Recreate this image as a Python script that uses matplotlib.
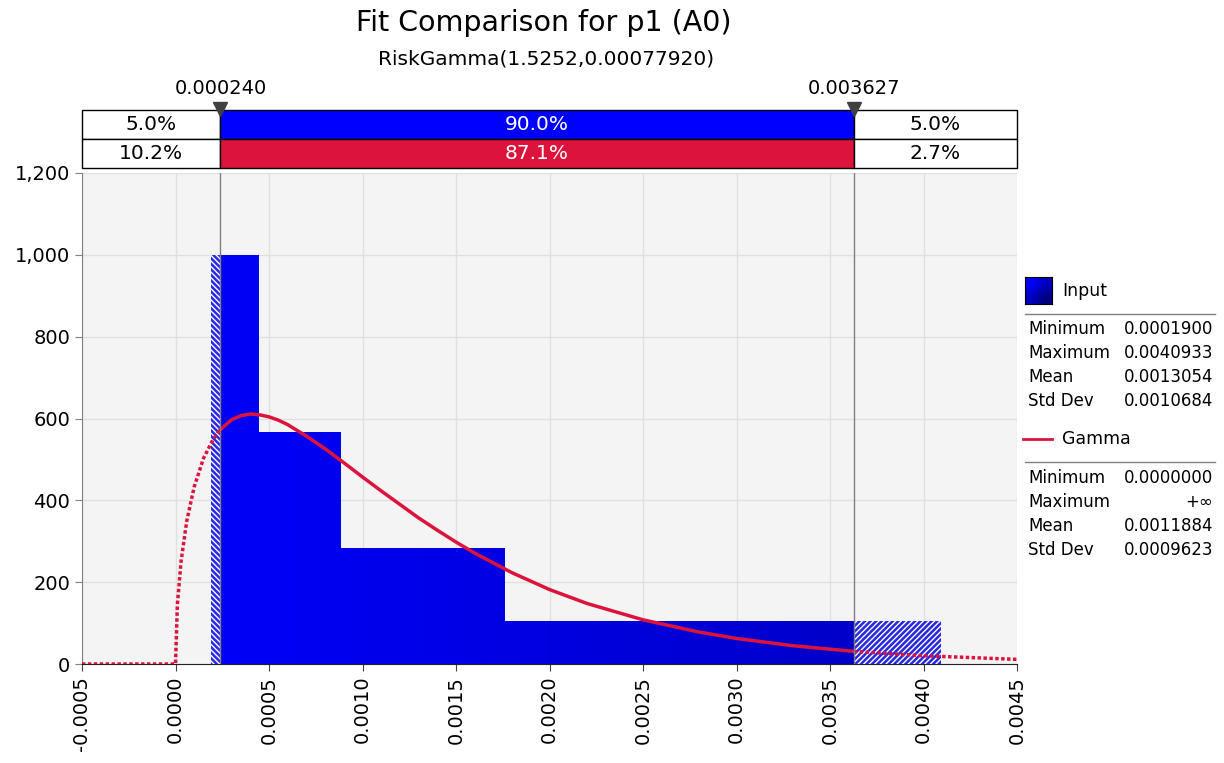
import numpy as np
import matplotlib.pyplot as plt
from matplotlib.colors import LinearSegmentedColormap
from matplotlib.patches import Rectangle, Polygon
from matplotlib.lines import Line2D
from matplotlib.ticker import FuncFormatter

plt.rcParams['font.family'] = ['DejaVu Sans']
plt.rcParams['hatch.linewidth'] = 1.0

# histogram of the input (equal-probability bins)
bin_edges = [0.00019, 0.000444, 0.000884, 0.00176, 0.0040933]
bin_heights = [1000, 568, 283, 106]

# 5% / 95% markers
lo_cut = 0.000240
hi_cut = 0.003627

# fitted gamma density
curve_x = [-0.0005, 0.0, 0.00001, 0.00003, 0.00006, 0.0001, 0.00015, 0.0002,
           0.00024, 0.0003, 0.00035, 0.0004, 0.00045, 0.0005, 0.00055, 0.0006,
           0.0007, 0.0008, 0.0009, 0.001, 0.0011, 0.0012, 0.0013, 0.0014,
           0.0015, 0.0016, 0.0018, 0.002, 0.0022, 0.0025, 0.0028, 0.003,
           0.0033, 0.003627, 0.004, 0.0045]
curve_y = [0, 0, 145, 252, 349, 433, 503, 548,
           573, 597, 607, 611, 609, 604, 596, 585,
           557, 526, 492, 457, 423, 390, 357, 327,
           298, 271, 223, 182, 148, 108, 78, 62.5,
           44.7, 30.9, 20.2, 11.3]

input_band = ['5.0%', '90.0%', '5.0%']
fit_band = ['10.2%', '87.1%', '2.7%']

input_stats = [('Minimum', '0.0001900'), ('Maximum', '0.0040933'),
               ('Mean', '0.0013054'), ('Std Dev', '0.0010684')]
fit_stats = [('Minimum', '0.0000000'), ('Maximum', '+∞'),
             ('Mean', '0.0011884'), ('Std Dev', '0.0009623')]

W, H = 1224, 763
BLUE = '#0000ff'
RED = '#dc143c'
xmin, xmax = -0.0005, 0.0045


def fx(x):
    return x / W


def fy(y):
    return 1 - y / H


fig = plt.figure(figsize=(W / 100, H / 100), dpi=100)
ax = fig.add_axes([fx(82), fy(664), 935 / W, 491 / H])
ax.set_facecolor('#f4f4f4')
ax.grid(color='#e0e0e0', lw=1)
ax.set_axisbelow(True)

# gradient-filled histogram, clipped to the step outline
pts = [(bin_edges[0], 0)]
for i, h in enumerate(bin_heights):
    pts += [(bin_edges[i], h), (bin_edges[i + 1], h)]
pts.append((bin_edges[-1], 0))
outline = Polygon(pts, closed=True, facecolor='none', edgecolor='none')
ax.add_patch(outline)
cmap = LinearSegmentedColormap.from_list('bars', ['#0000f8', '#0000c4'])
grad = np.linspace(0, 1, 256).reshape(1, -1)
im = ax.imshow(grad, cmap=cmap, aspect='auto', interpolation='bilinear',
               extent=[bin_edges[0], bin_edges[-1], 0, max(bin_heights)], zorder=2)
im.set_clip_path(outline)

# hatched tails outside the 5-95% band
ax.bar(bin_edges[0], bin_heights[0], width=lo_cut - bin_edges[0], align='edge',
       color='#2828f0', edgecolor='white', hatch='\\\\\\\\\\\\', lw=0, zorder=3)
ax.bar(hi_cut, bin_heights[-1], width=bin_edges[-1] - hi_cut, align='edge',
       color='#2828e0', edgecolor='white', hatch='//////', lw=0, zorder=3)

# fitted curve: solid inside the band, dotted outside
cx = np.array(curve_x)
cy = np.array(curve_y)
mid = (cx >= lo_cut) & (cx <= hi_cut)
left = cx <= lo_cut
right = cx >= hi_cut
ax.plot(cx[mid], cy[mid], color=RED, lw=2.5, zorder=4, solid_joinstyle='round')
ax.plot(cx[left], cy[left], color=RED, lw=2.5, ls=(0, (1, 0.7)), zorder=4)
ax.plot(cx[right], cy[right], color=RED, lw=2.5, ls=(0, (1, 0.7)), zorder=4)

for v in (lo_cut, hi_cut):
    ax.axvline(v, color='#808080', lw=1, zorder=5)

ax.set_xlim(xmin, xmax)
ax.set_ylim(0, 1200)
ax.set_xticks(np.round(np.arange(-0.0005, 0.00451, 0.0005), 4))
ax.xaxis.set_major_formatter(FuncFormatter(lambda v, p: f'{v:.4f}'))
ax.set_yticks(range(0, 1201, 200))
ax.yaxis.set_major_formatter(FuncFormatter(lambda v, p: f'{v:,.0f}'))
ax.tick_params(axis='x', labelrotation=90, labelsize=14, length=5, color='#404040')
ax.tick_params(axis='y', labelsize=14, length=5, color='#808080')
for s in ('top', 'right'):
    ax.spines[s].set_visible(False)
ax.spines['left'].set_color('#808080')
ax.spines['bottom'].set_color('#202020')

# percentage band above the plot
axb = fig.add_axes([fx(82), fy(168), 935 / W, 58 / H])
axb.set_xlim(xmin, xmax)
axb.set_ylim(0, 1)
axb.axis('off')
cuts = [xmin, lo_cut, hi_cut, xmax]
for labels, mid_col, y0 in [(input_band, BLUE, 0.5), (fit_band, RED, 0.0)]:
    for j in range(3):
        fc = mid_col if j == 1 else 'white'
        axb.add_patch(Rectangle((cuts[j], y0), cuts[j + 1] - cuts[j], 0.5,
                                facecolor=fc, edgecolor='black', lw=1, clip_on=False))
        axb.text((cuts[j] + cuts[j + 1]) / 2, y0 + 0.25, labels[j], ha='center', va='center',
                 fontsize=14.5, color='white' if j == 1 else 'black')
for v in (lo_cut, hi_cut):
    axb.plot([v], [1.02], marker='v', ms=10, color='#404040', clip_on=False)
    axb.annotate(f'{v:.6f}', (v, 1), xytext=(0, 9), textcoords='offset points',
                 ha='center', va='bottom', fontsize=14)

fig.text(fx(544), fy(23), 'Fit Comparison for p1 (A0)', ha='center', va='center', fontsize=20.5)
fig.text(fx(546), fy(59), 'RiskGamma(1.5252,0.00077920)', ha='center', va='center', fontsize=14.5)

# legend / statistics panel
sw = fig.add_axes([fx(1025), fy(304), 27 / W, 27 / H])
sw.imshow([[0, 0.5], [0.5, 1]], cmap=LinearSegmentedColormap.from_list('sw', ['#0000ff', '#000080']),
          interpolation='bilinear', aspect='auto')
sw.set_xticks([])
sw.set_yticks([])
fig.text(fx(1062), fy(291), 'Input', va='center', fontsize=12.5)
fig.add_artist(Line2D([fx(1025), fx(1215)], [fy(314), fy(314)], color='#808080', lw=1))
for k, (name, val) in enumerate(input_stats):
    y = fy(329 + 24 * k)
    fig.text(fx(1028), y, name, va='center', fontsize=12)
    fig.text(fx(1213), y, val, va='center', ha='right', fontsize=12)

fig.add_artist(Line2D([fx(1023), fx(1052)], [fy(439), fy(439)], color=RED, lw=2))
fig.text(fx(1062), fy(439), 'Gamma', va='center', fontsize=12.5)
fig.add_artist(Line2D([fx(1025), fx(1215)], [fy(462), fy(462)], color='#808080', lw=1))
for k, (name, val) in enumerate(fit_stats):
    y = fy(478 + 24 * k)
    fig.text(fx(1028), y, name, va='center', fontsize=12)
    fig.text(fx(1213), y, val, va='center', ha='right', fontsize=12)

fig.savefig('out.png', dpi=100)
